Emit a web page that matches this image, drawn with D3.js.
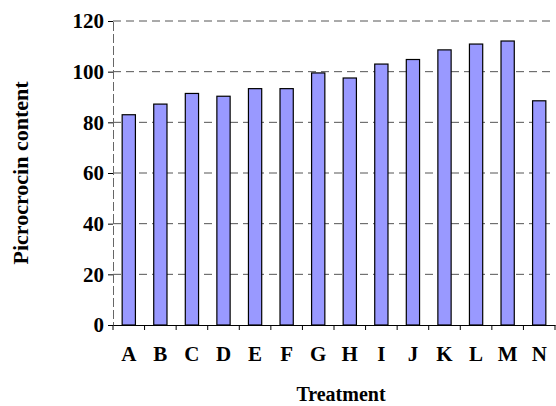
<!DOCTYPE html>
<html>
<head>
<meta charset="utf-8">
<script src="https://cdn.jsdelivr.net/npm/d3@7"></script>
<style>
  body { margin: 0; background: #fff; }
  svg text { font-family: "Liberation Serif", "Times New Roman", serif; font-weight: bold; fill: #000; }
</style>
</head>
<body>
<div id="chart"></div>
<script>
// data
var treatments = ["A", "B", "C", "D", "E", "F", "G", "H", "I", "J", "K", "L", "M", "N"];
var picrocrocin = [83, 87.2, 91.4, 90.3, 93.3, 93.3, 99.5, 97.5, 103, 104.8, 108.6, 110.9, 112.1, 88.5];
var yTicks = [0, 20, 40, 60, 80, 100, 120];

var svgWidth = 556;
var svgHeight = 406;

var chartMargin = {
  top: 21,
  right: 1,
  bottom: 81,
  left: 113
};

var chartWidth = svgWidth - chartMargin.left - chartMargin.right;
var chartHeight = svgHeight - chartMargin.top - chartMargin.bottom;

var svg = d3.select("#chart")
  .append("svg")
  .attr("width", svgWidth)
  .attr("height", svgHeight);

var chartGroup = svg.append("g")
  .attr("transform", `translate(${chartMargin.left}, ${chartMargin.top})`);

// scales
var xBandScale = d3.scaleBand()
  .domain(treatments)
  .range([0, chartWidth])
  .paddingInner(0.58)
  .paddingOuter(0.29);

var yLinearScale = d3.scaleLinear()
  .domain([0, 120])
  .range([chartHeight, 0]);

// dashed gridlines
chartGroup.append("g")
  .selectAll("line")
  .data(yTicks.filter(d => d > 0))
  .enter()
  .append("line")
  .attr("x1", 0)
  .attr("x2", chartWidth)
  .attr("y1", d => yLinearScale(d))
  .attr("y2", d => yLinearScale(d))
  .attr("stroke", "#555")
  .attr("stroke-width", 1)
  .attr("stroke-dasharray", "8,5");

// bars
chartGroup.selectAll("rect")
  .data(picrocrocin)
  .enter()
  .append("rect")
  .attr("x", (d, i) => xBandScale(treatments[i]))
  .attr("y", d => yLinearScale(d))
  .attr("width", xBandScale.bandwidth())
  .attr("height", d => chartHeight - yLinearScale(d))
  .attr("fill", "#9999FF")
  .attr("stroke", "#000")
  .attr("stroke-width", 1.2);

// y axis
var leftAxis = d3.axisLeft(yLinearScale)
  .tickValues(yTicks)
  .tickSize(5)
  .tickPadding(4);

var yAxis = chartGroup.append("g")
  .call(leftAxis)
  .attr("font-family", null)
  .attr("font-size", null);
yAxis.select(".domain")
  .attr("stroke", "#666")
  .attr("stroke-dasharray", "9,3");
yAxis.selectAll("text")
  .style("font-size", "21px");

// x axis: ticks sit between categories
var step = xBandScale.step();
var bottomAxis = d3.axisBottom(xBandScale)
  .tickSize(0)
  .tickPadding(21);

var xAxis = chartGroup.append("g")
  .attr("transform", `translate(0, ${chartHeight})`)
  .call(bottomAxis)
  .attr("font-family", null)
  .attr("font-size", null);
xAxis.select(".domain").attr("stroke", "#000");
xAxis.selectAll("text")
  .style("font-size", "21px");

xAxis.selectAll(".sep")
  .data(d3.range(treatments.length + 1))
  .enter()
  .append("line")
  .attr("class", "sep")
  .attr("x1", i => i * step)
  .attr("x2", i => i * step)
  .attr("y1", 0)
  .attr("y2", 5)
  .attr("stroke", "#000");

// axis titles
chartGroup.append("text")
  .attr("x", chartWidth / 2 + 7)
  .attr("y", chartHeight + 76)
  .attr("text-anchor", "middle")
  .style("font-size", "20px")
  .text("Treatment");

chartGroup.append("text")
  .attr("transform", "rotate(-90)")
  .attr("x", 0 - chartHeight / 2)
  .attr("y", 0 - chartMargin.left + 28)
  .attr("text-anchor", "middle")
  .style("font-size", "22px")
  .text("Picrocrocin content");
</script>
</body>
</html>
